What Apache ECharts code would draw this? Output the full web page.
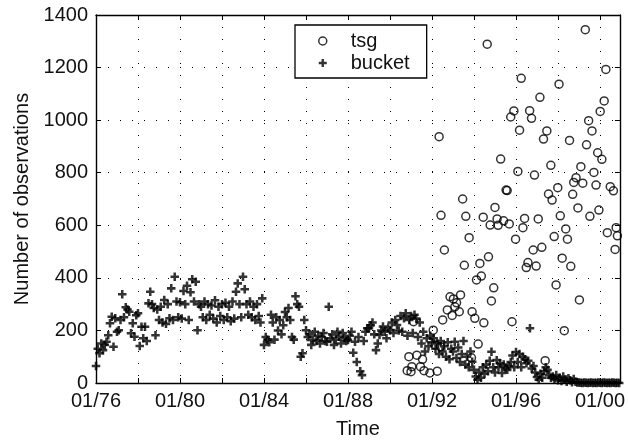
<!DOCTYPE html>
<html>
<head>
<meta charset="utf-8">
<script src="https://cdn.jsdelivr.net/npm/echarts@6/dist/echarts.min.js"></script>
<style>
html,body{margin:0;padding:0;background:#fff;}
#chart{width:628px;height:444px;}
</style>
</head>
<body>
<div id="chart"></div>
<script>
// ---- Data ----
// Bucket: monthly values, Jan 1976 .. Dec 2000
var bucketStartYear = 1976;
var bucket1976_1980 = [
  65, 130, 113, 150, 125, 145, 157, 182, 227, 252, 138, 246,
  195, 201, 240, 338, 250, 288, 280, 271, 189, 227, 176, 258,
  265, 141, 214, 170, 214, 160, 303, 347, 300, 285, 182, 280,
  240, 290, 230, 316, 225, 300, 246, 360, 240, 404, 310, 250,
  307, 245, 350, 300, 370, 240, 345, 395, 310, 385, 201, 300
];
var bucket1981_1985 = [
  290, 250, 310, 240, 300, 260, 295, 245, 315, 230, 290, 255,
  300, 240, 305, 250, 290, 235, 310, 245, 347, 379, 300, 250,
  404, 357, 300, 260, 310, 250, 290, 240, 300, 255, 230, 322,
  145, 175, 165, 155, 260, 230, 165, 250, 200, 240, 185, 220,
  270, 250, 285, 240, 175, 165, 330, 300, 290, 100, 113, 240
];
var bucket1986_1990 = [
  201, 175, 185, 145, 164, 195, 160, 180, 150, 175, 190, 160,
  157, 290, 170, 185, 145, 165, 195, 176, 150, 190, 170, 160,
  164, 180, 195, 115, 157, 80, 175, 45, 30, 160, 195, 208,
  208, 220, 230, 185, 125, 150, 183, 200, 215, 195, 170, 210,
  201, 230, 190, 240, 221, 200, 255, 195, 246, 265, 180, 240
];
var bucket1991_1995 = [
  255, 190, 260, 245, 175, 230, 150, 195, 120, 170, 140, 180,
  155, 170, 130, 150, 110, 160, 120, 140, 100, 155, 90, 130,
  120, 157, 95, 135, 80, 110, 160, 70, 100, 60, 120, 81,
  50, 25, 12, 40, 20, 60, 35, 70, 45, 85, 119, 60,
  40, 87, 60, 75, 38, 70, 57, 50, 65, 80, 105, 60
];
var bucket1996_2000 = [
  118, 80, 110, 60, 100, 90, 75, 85, 208, 55, 65, 40,
  23, 12, 35, 20, 45, 60, 50, 30, 20, 25, 15, 30,
  10, 20, 8, 25, 12, 5, 18, 10, 3, 15, 5, 2,
  2, 1, 0, 2, 1, 0, 1, 2, 0, 1, 0, 2,
  1, 0, 2, 1, 0, 1, 0, 2, 1, 0, 1, 0
];

// TSG: decimal-year times and counts
var tsgTime = [
  1990.82, 1990.90, 1991.00, 1991.04, 1991.12, 1991.28, 1991.45, 1991.55, 1991.62, 1991.90,
  1992.06, 1992.14, 1992.25, 1992.34, 1992.40, 1992.43, 1992.51, 1992.59, 1992.73, 1992.86,
  1992.96, 1993.02, 1993.09, 1993.17, 1993.30, 1993.36, 1993.46, 1993.54, 1993.61, 1993.77,
  1993.88, 1993.91, 1994.04, 1994.12, 1994.20, 1994.28, 1994.35, 1994.44, 1994.47, 1994.63,
  1994.69, 1994.77, 1994.83, 1994.94, 1995.00, 1995.10, 1995.15, 1995.27, 1995.41, 1995.53,
  1995.58, 1995.68, 1995.75, 1995.81, 1995.90, 1995.98, 1996.09, 1996.17, 1996.25, 1996.33,
  1996.41, 1996.49, 1996.57, 1996.65, 1996.74, 1996.82, 1996.88, 1996.96, 1997.06, 1997.14,
  1997.23, 1997.31, 1997.39, 1997.47, 1997.55, 1997.66, 1997.72, 1997.82, 1997.91, 1997.99,
  1998.05, 1998.11, 1998.20, 1998.30, 1998.37, 1998.45, 1998.55, 1998.61, 1998.70, 1998.75,
  1998.86, 1998.95, 1999.02, 1999.09, 1999.18, 1999.30, 1999.36, 1999.46, 1999.52, 1999.62,
  1999.71, 1999.81, 1999.89, 1999.95, 2000.01, 2000.09, 2000.20, 2000.28, 2000.35, 2000.49,
  2000.64, 2000.72, 2000.77, 2000.83
];
var tsgValue = [
  47, 100, 43, 62, 233, 106, 62, 90, 47, 38,
  201, 145, 45, 937, 138, 638, 240, 506, 278, 328,
  257, 320, 290, 305, 271, 335, 700, 448, 634, 553,
  96, 271, 246, 392, 148, 455, 407, 631, 229, 1289,
  480, 601, 312, 362, 668, 624, 600, 852, 617, 734,
  732, 605, 1012, 233, 1035, 547, 805, 962, 1159, 591,
  626, 439, 458, 1036, 1007, 506, 791, 445, 624, 1087,
  516, 928, 85, 959, 719, 828, 696, 557, 373, 743,
  1137, 636, 475, 199, 586, 547, 923, 444, 718, 763,
  781, 666, 316, 823, 760, 1344, 906, 998, 634, 959,
  801, 753, 876, 658, 1033, 851, 1073, 1193, 572, 747,
  731, 508, 591, 560
];

// Axis ticks
var yTicks = [0, 200, 400, 600, 800, 1000, 1200, 1400];
var xLabelYears = [1976, 1980, 1984, 1988, 1992, 1996, 2000];

// ---- Build ----
var bucketAll = [].concat(bucket1976_1980, bucket1981_1985, bucket1986_1990, bucket1991_1995, bucket1996_2000);
var bucketData = bucketAll.map(function (v, i) { return [bucketStartYear + i / 12, v]; });
var tsgData = tsgTime.map(function (t, i) { return [t, tsgValue[i]]; });

var plusPath = 'path://M3.5,0H6.5V3.5H10V6.5H6.5V10H3.5V6.5H0V3.5H3.5Z';
var FONT = '"Liberation Sans", Arial, Helvetica, sans-serif';
var axisLineStyle = { color: '#000', width: 1.4 };

var chart = echarts.init(document.getElementById('chart'), null, { renderer: 'canvas' });
chart.setOption({
  animation: false,
  backgroundColor: '#fff',
  textStyle: { fontFamily: FONT, color: '#111' },
  grid: { left: 96, right: 6, top: 15, bottom: 61, containLabel: false },
  legend: {
    orient: 'vertical',
    left: 295,
    top: 25,
    padding: [6, 17, 5, 23],
    itemWidth: 46,
    itemHeight: 8,
    itemGap: 2,
    borderColor: '#000',
    borderWidth: 1.3,
    backgroundColor: '#fff',
    textStyle: { fontFamily: FONT, fontSize: 20, color: '#111' },
    data: [
      { name: 'tsg', icon: 'circle', itemStyle: { color: 'rgba(0,0,0,0)', borderColor: '#000', borderWidth: 1.5 } },
      { name: 'bucket', icon: plusPath, itemStyle: { color: '#000', borderWidth: 0 } }
    ]
  },
  xAxis: [{
    type: 'value',
    min: 1976,
    max: 2000.95,
    interval: 2,
    name: 'Time',
    nameLocation: 'middle',
    nameGap: 36,
    nameTextStyle: { fontFamily: FONT, fontSize: 20, color: '#111' },
    axisLine: { show: true, onZero: false, lineStyle: axisLineStyle },
    axisTick: { show: true, inside: true, length: 5, lineStyle: { color: '#000' } },
    axisLabel: {
      fontFamily: FONT, fontSize: 20, color: '#111', margin: 8,
      showMaxLabel: false,
      formatter: function (v) {
        var y = Math.round(v);
        if (xLabelYears.indexOf(y) < 0 || Math.abs(v - y) > 1e-6) return '';
        return '01/' + String(y % 100).padStart(2, '0');
      }
    },
    splitLine: { show: true, lineStyle: { color: '#000', width: 1, type: [1, 11] } }
  }, {
    type: 'value', position: 'top', min: 1976, max: 2000.95, interval: 2,
    axisLine: { show: true, onZero: false, lineStyle: axisLineStyle },
    axisTick: { show: true, inside: true, length: 5, lineStyle: { color: '#000' } },
    axisLabel: { show: false },
    splitLine: { show: false }
  }],
  yAxis: [{
    type: 'value',
    min: yTicks[0],
    max: yTicks[yTicks.length - 1],
    interval: 200,
    name: 'Number of observations',
    nameLocation: 'middle',
    nameGap: 60,
    nameRotate: 90,
    nameTextStyle: { fontFamily: FONT, fontSize: 20, color: '#111' },
    axisLine: { show: true, onZero: false, lineStyle: axisLineStyle },
    axisTick: { show: true, inside: true, length: 5, lineStyle: { color: '#000' } },
    axisLabel: {
      fontFamily: FONT, fontSize: 20, color: '#111', margin: 8,
      formatter: function (v) { return String(v); }
    },
    splitLine: { show: true, lineStyle: { color: '#000', width: 1, type: [1, 11] } }
  }, {
    type: 'value', position: 'right', min: 0, max: 1400, interval: 200,
    axisLine: { show: true, onZero: false, lineStyle: axisLineStyle },
    axisTick: { show: true, inside: true, length: 5, lineStyle: { color: '#000' } },
    axisLabel: { show: false },
    splitLine: { show: false }
  }],
  series: [{
    name: 'tsg',
    type: 'scatter',
    data: tsgData,
    symbol: 'circle',
    symbolSize: 8,
    itemStyle: { color: 'rgba(0,0,0,0)', borderColor: '#000', borderWidth: 1.5 },
    emphasis: { disabled: true },
    z: 3
  }, {
    name: 'bucket',
    type: 'scatter',
    data: bucketData,
    symbol: plusPath,
    symbolSize: 8.5,
    itemStyle: { color: '#000' },
    emphasis: { disabled: true },
    z: 4
  }]
});
</script>
</body>
</html>
